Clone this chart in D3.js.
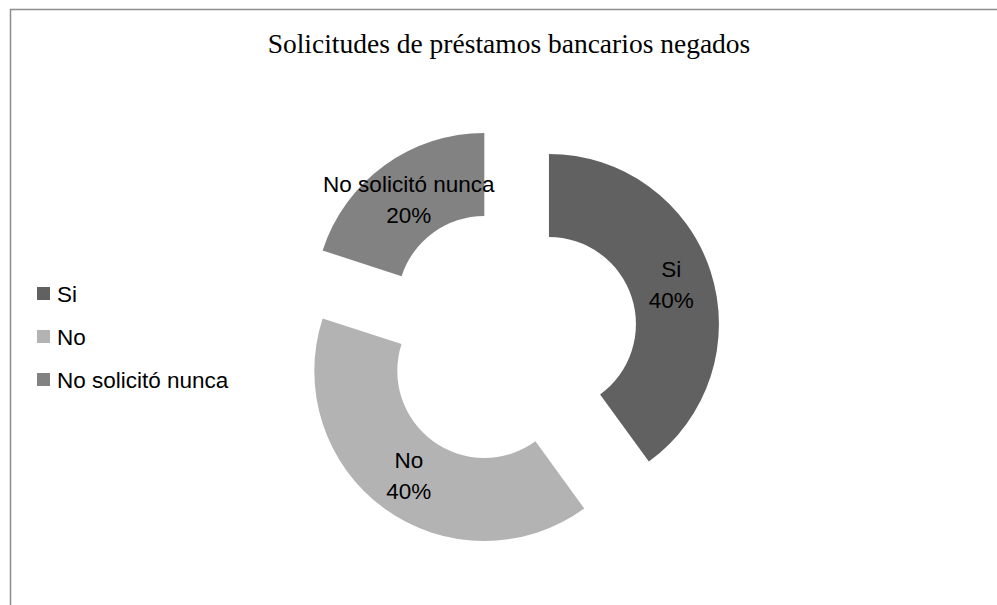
<!DOCTYPE html>
<html>
<head>
<meta charset="utf-8">
<script src="https://cdn.jsdelivr.net/npm/d3@7"></script>
<style>
  body { margin: 0; background: #fff; }
</style>
</head>
<body>
<svg width="997" height="605"></svg>
<script>
const categories = ['Si', 'No', 'No solicitó nunca'];
const values = [40, 40, 20];
const colors = ['#616161', '#b3b3b3', '#828282'];
const title = 'Solicitudes de préstamos bancarios negados';

const svg = d3.select('svg');
const width = +svg.attr('width');
const height = +svg.attr('height');

// chart frame (right and bottom edges fall outside the picture)
svg.append('rect')
    .attr('x', 10.5)
    .attr('y', 9.5)
    .attr('width', width + 20)
    .attr('height', height + 20)
    .attr('fill', 'none')
    .attr('stroke', '#8c8c8c')
    .attr('stroke-width', 1.5);

svg.append('text')
    .attr('x', 509)
    .attr('y', 53)
    .attr('text-anchor', 'middle')
    .attr('font-family', '"Liberation Serif", "Times New Roman", serif')
    .attr('font-size', 27.5)
    .attr('fill', '#000')
    .text(title);

const cx = 509, cy = 337;
const outerR = 170, innerR = 87;
const explode = 42;
const labelFont = '"Liberation Sans", Arial, sans-serif';
const labelSize = 22.5;

const pie = d3.pie().sort(null).value(d => d);
const arcs = pie(values);
const arc = d3.arc().innerRadius(innerR).outerRadius(outerR);

const g = svg.append('g')
    .attr('transform', `translate(${cx},${cy})`);

const slice = g.selectAll('g.slice')
    .data(arcs)
    .enter().append('g')
    .attr('class', 'slice')
    .attr('transform', d => {
        const a = (d.startAngle + d.endAngle) / 2;
        return `translate(${explode * Math.sin(a)},${-explode * Math.cos(a)})`;
    });

slice.append('path')
    .attr('d', arc)
    .attr('fill', (d, i) => colors[i]);

const label = slice.append('text')
    .attr('transform', d => `translate(${arc.centroid(d)})`)
    .attr('text-anchor', 'middle')
    .attr('font-family', labelFont)
    .attr('font-size', labelSize)
    .attr('fill', '#000');
label.append('tspan')
    .attr('x', 0)
    .attr('y', -7)
    .text((d, i) => categories[i]);
label.append('tspan')
    .attr('x', 0)
    .attr('y', 24)
    .text(d => d.data + '%');

// legend
const legend = svg.append('g')
    .attr('transform', 'translate(37,294)');
const item = legend.selectAll('g')
    .data(categories)
    .enter().append('g')
    .attr('transform', (d, i) => `translate(0,${i * 43})`);
item.append('rect')
    .attr('x', 0)
    .attr('y', -7)
    .attr('width', 13)
    .attr('height', 13)
    .attr('fill', (d, i) => colors[i]);
item.append('text')
    .attr('x', 20)
    .attr('y', 8)
    .attr('font-family', labelFont)
    .attr('font-size', labelSize)
    .attr('fill', '#000')
    .text(d => d);
</script>
</body>
</html>
